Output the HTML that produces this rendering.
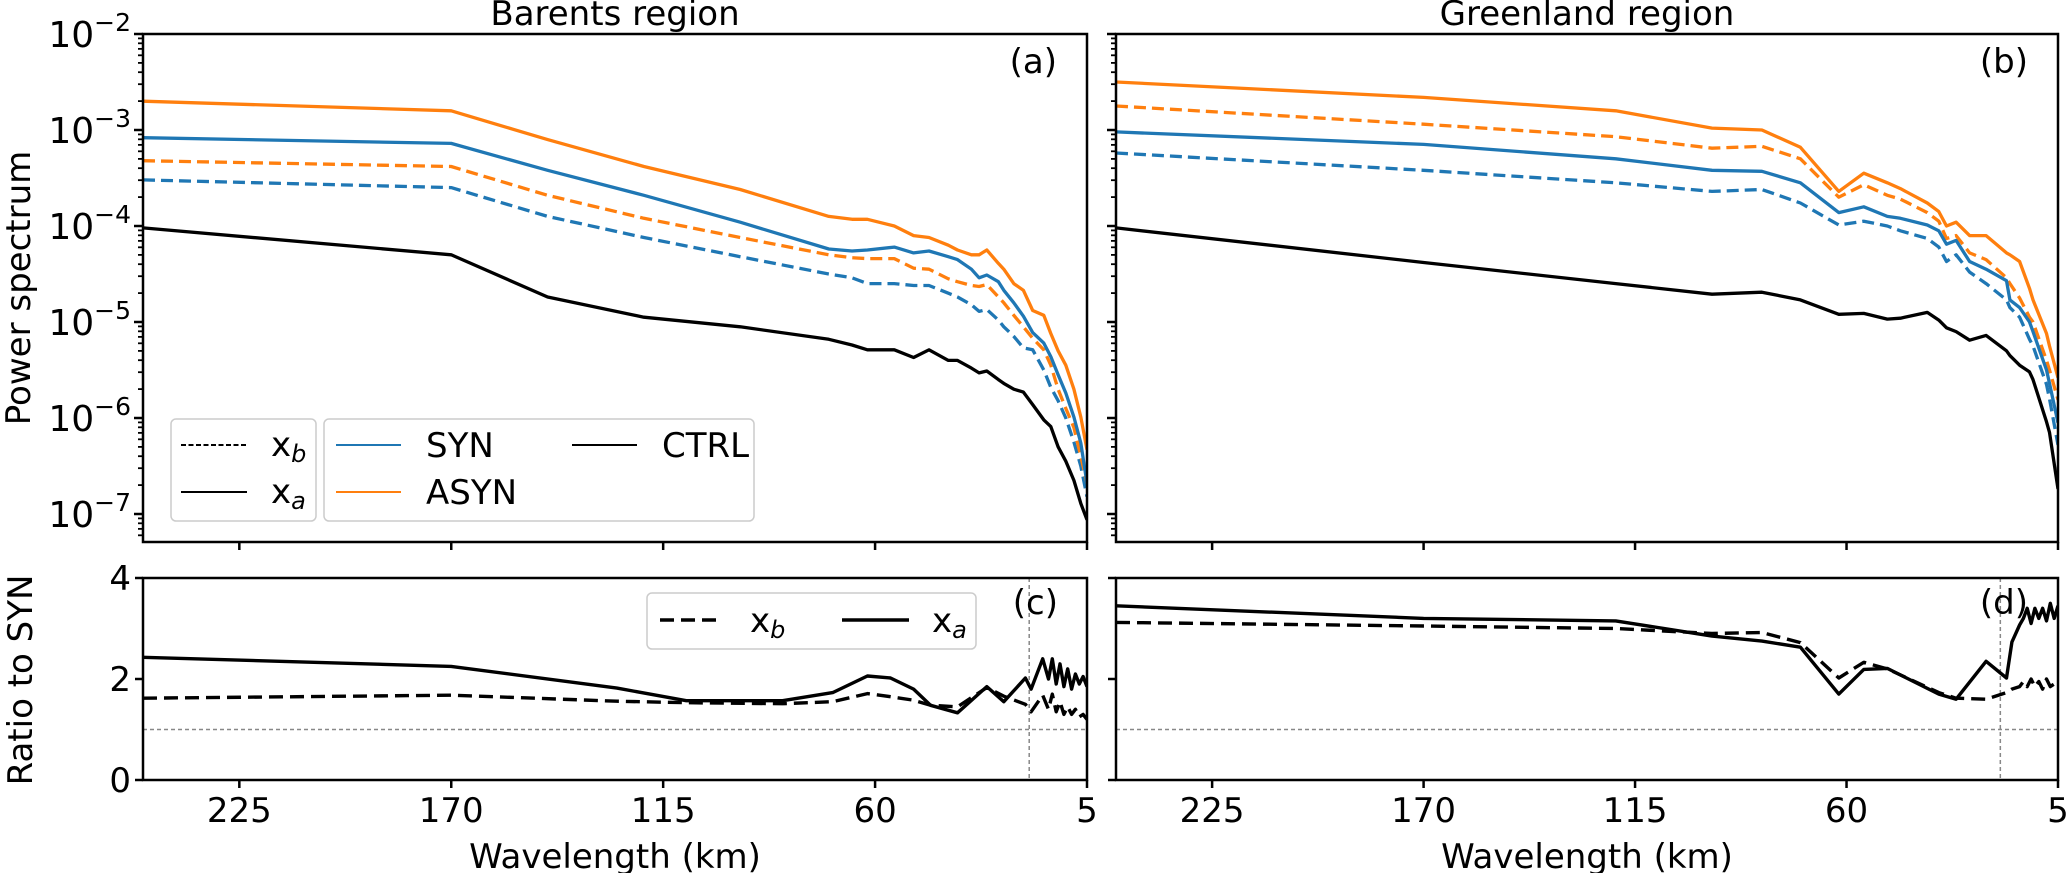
<!DOCTYPE html>
<html><head><meta charset="utf-8"><style>
html,body{margin:0;padding:0;background:#fff;}
svg{display:block;font-family:"DejaVu Sans","Liberation Sans",sans-serif;}
</style></head><body>
<svg id="fig" width="2067" height="873" viewBox="0 0 2067 873" xmlns="http://www.w3.org/2000/svg">
<g id="root"></g>
</svg>
<script>
// ---------- data ----------
const lamA = [250,170,145,120,95,72,66,62,55,50,46,41,38.6,35,33,31,28,26.6,24,21.5,19.1,16.2,14.4,12.5,10.5,8.4,6.6,5];
const aCtrl = [-4.02,-4.3,-4.74,-4.95,-5.05,-5.18,-5.24,-5.29,-5.29,-5.37,-5.29,-5.4,-5.4,-5.48,-5.53,-5.51,-5.6,-5.64,-5.7,-5.73,-5.86,-6.02,-6.09,-6.3,-6.45,-6.65,-6.89,-7.06];
const aSynXa = [-3.08,-3.14,-3.42,-3.68,-3.96,-4.24,-4.26,-4.25,-4.22,-4.28,-4.26,-4.32,-4.35,-4.45,-4.54,-4.51,-4.58,-4.67,-4.8,-4.94,-5.11,-5.22,-5.36,-5.55,-5.74,-5.99,-6.26,-6.68];
const aAsynXa = [-2.7,-2.8,-3.1,-3.38,-3.62,-3.9,-3.93,-3.93,-4.0,-4.1,-4.12,-4.2,-4.25,-4.3,-4.3,-4.25,-4.39,-4.45,-4.6,-4.67,-4.88,-4.93,-5.12,-5.3,-5.45,-5.7,-5.99,-6.33];
const aAsynXb = [-3.32,-3.38,-3.68,-3.92,-4.12,-4.3,-4.33,-4.34,-4.34,-4.44,-4.45,-4.55,-4.58,-4.62,-4.63,-4.61,-4.74,-4.8,-4.93,-5.05,-5.17,-5.29,-5.45,-5.7,-5.9,-6.1,-6.4,-6.68];
const aSynXb = [-3.52,-3.6,-3.9,-4.12,-4.32,-4.5,-4.54,-4.6,-4.6,-4.62,-4.62,-4.7,-4.74,-4.82,-4.89,-4.87,-4.98,-5.05,-5.15,-5.27,-5.29,-5.5,-5.68,-5.82,-6.0,-6.25,-6.5,-6.82];

const lamB = [250,170,120,95,82,72,62,55.5,49.4,46,39,36,34,31.5,28,23.7,18.4,17.5,15,12.4,11.5,8,7.2,5];
const bAsynXa = [-2.5,-2.66,-2.8,-2.98,-3.0,-3.18,-3.64,-3.45,-3.55,-3.61,-3.76,-3.85,-4.0,-3.96,-4.1,-4.1,-4.28,-4.3,-4.37,-4.65,-4.77,-5.12,-5.25,-5.58];
const bAsynXb = [-2.75,-2.94,-3.07,-3.19,-3.17,-3.3,-3.7,-3.57,-3.68,-3.72,-3.86,-3.95,-4.13,-4.1,-4.28,-4.35,-4.54,-4.6,-4.75,-4.95,-5.0,-5.4,-5.5,-5.81];
const bSynXa = [-3.02,-3.15,-3.3,-3.42,-3.43,-3.55,-3.86,-3.8,-3.9,-3.92,-3.99,-4.05,-4.19,-4.15,-4.37,-4.45,-4.57,-4.77,-4.85,-5.0,-5.1,-5.5,-5.64,-6.05];
const bSynXb = [-3.24,-3.42,-3.55,-3.64,-3.62,-3.76,-3.99,-3.95,-4.0,-4.05,-4.13,-4.22,-4.37,-4.3,-4.48,-4.6,-4.77,-4.85,-4.95,-5.18,-5.25,-5.65,-5.8,-6.28];
const bCtrl = [-4.02,-4.38,-4.6,-4.71,-4.69,-4.77,-4.92,-4.91,-4.97,-4.96,-4.9,-4.98,-5.06,-5.1,-5.19,-5.14,-5.3,-5.35,-5.45,-5.52,-5.6,-6.04,-6.15,-6.74];

const lamC = [250,170,127,109,84,71,62,56,50,45.6,38.6,31,26.6,21,19.5,16.5,15,14,13,12,11,10,9,8,7,6,5];
const cXa = [2.43,2.25,1.82,1.57,1.57,1.73,2.06,2.02,1.8,1.48,1.33,1.85,1.55,2.02,1.8,2.4,2.0,2.4,1.9,2.3,1.85,2.2,1.8,2.1,1.9,2.05,1.85];
const cXb = [1.62,1.68,1.56,1.53,1.51,1.55,1.71,1.65,1.58,1.48,1.45,1.83,1.66,1.5,1.35,1.68,1.4,1.7,1.35,1.55,1.3,1.45,1.3,1.4,1.25,1.3,1.2];

const lamD = [250,170,120,95,82,72,62,55.5,49.4,36,31.5,23.7,18.4,17,15,14,13,12,11,10,9,8,7,6,5];
const dXa = [3.45,3.2,3.15,2.85,2.75,2.63,1.7,2.19,2.21,1.7,1.6,2.35,2.02,2.73,3.07,3.2,3.4,3.1,3.4,3.2,3.4,3.15,3.5,3.2,3.45];
const dXb = [3.12,3.05,3.0,2.9,2.92,2.72,2.02,2.33,2.2,1.73,1.62,1.6,1.73,1.8,1.85,1.95,1.85,2.0,1.85,1.95,1.8,2.0,1.85,1.9,1.85];

const xTicks = [225,170,115,60,5];
const yLogTicks = [-2,-3,-4,-5,-6,-7];
const yRatioTicks = [0,2,4];
const cutoffKm = [20];

// ---------- layout ----------
const NS = "http://www.w3.org/2000/svg";
const root = document.getElementById('root');
const BLUE = "#1f77b4", ORANGE = "#ff7f0e";
const panels = {
  a:{x0:143,x1:1087,y0:34,y1:542}, b:{x0:1116,x1:2058,y0:34,y1:542},
  c:{x0:143,x1:1087,y0:578,y1:780}, d:{x0:1116,x1:2058,y0:578,y1:780}
};
function mk(tag, attrs, parent){ const e=document.createElementNS(NS,tag); for(const k in attrs) e.setAttribute(k,attrs[k]); (parent||root).appendChild(e); return e; }
function xf(p){ return l => p.x1 - (l-5)*(p.x1-p.x0)/245; }
function ylog(p){ return v => p.y0 + (-2 - v)*96; }
function yrat(p){ return v => p.y1 - v*(p.y1-p.y0)/4; }

function drawLine(p, lams, vals, yfn, color, dashed, w, name){
  const X=xf(p);
  let d=''; lams.forEach((l,i)=>{ d += (i?'L':'M')+X(l).toFixed(1)+','+yfn(vals[i]).toFixed(1); });
  const e=mk('path',{d:d,fill:'none',stroke:color,'stroke-width':w||3,'stroke-linejoin':'round','clip-path':'url(#clip-'+p.id+')'});
  if(dashed) e.setAttribute('stroke-dasharray', dashed);
  
  
}
function text(x,y,s,opts){
  const t=mk('text',Object.assign({x:x,y:y,'font-size':34,fill:'#000'},opts||{}));
  t.innerHTML=s; return t;
}

const defs=mk('defs',{});
for(const id in panels){ const p=panels[id]; p.id=id;
  const cp=mk('clipPath',{id:'clip-'+id},defs); mk('rect',{x:p.x0,y:p.y0,width:p.x1-p.x0,height:p.y1-p.y0},cp); }

for(const id in panels){
  const p=panels[id]; const X=xf(p);
  const g=mk('g',{});  
  xTicks.forEach(t=>{
    mk('line',{x1:X(t),x2:X(t),y1:p.y1,y2:p.y1+8,stroke:'#000','stroke-width':2.5},g);
    if(id==='c'||id==='d'){
      const tl=text(X(t),822,t,{'text-anchor':'middle','font-size':34});
      
      
    }
  });
  if(id==='a'||id==='b'){
    const Y=ylog(p);
    for(let dec=-8; dec<=-3; dec++){
      for(let m=2;m<=9;m++){ const v=dec+Math.log10(m); const y=Y(v); if(y>=p.y0&&y<=p.y1) mk('line',{x1:p.x0-5,x2:p.x0,y1:y,y2:y,stroke:'#000','stroke-width':1.8},g); }
    }
    yLogTicks.forEach(t=>{ const y=Y(t);
      mk('line',{x1:p.x0-9,x2:p.x0,y1:y,y2:y,stroke:'#000','stroke-width':2.5},g);
      if(id==='a'){ const tl=text(p.x0-12,y+13,'10<tspan dy="-16" font-size="25">−'+(-t)+'</tspan>',{'text-anchor':'end','font-size':36});
        
         }
    });
  } else {
    const Y=yrat(p);
    yRatioTicks.forEach(t=>{ const y=Y(t);
      mk('line',{x1:p.x0-8,x2:p.x0,y1:y,y2:y,stroke:'#000','stroke-width':2.5},g);
      if(id==='c'){ const tl=text(p.x0-12,y+12,t,{'text-anchor':'end','font-size':34});
        
         }
    });
    mk('line',{x1:p.x0,x2:p.x1,y1:Y(1),y2:Y(1),stroke:'#888','stroke-width':1.5,'stroke-dasharray':'4,3'},g);
    mk('line',{x1:X(cutoffKm[0]),x2:X(cutoffKm[0]),y1:p.y0,y2:p.y1,stroke:'#888','stroke-width':1.5,'stroke-dasharray':'4,3'},g);
  }
}

const A=panels.a,B=panels.b,C=panels.c,D=panels.d;
drawLine(A,lamA,aCtrl,ylog(A),'#000',null,3.3,'ctrl-line-a');
drawLine(A,lamA,aSynXb,ylog(A),BLUE,'12,6',3.3,'syn-xb-line-a');
drawLine(A,lamA,aAsynXb,ylog(A),ORANGE,'12,6',3.3,'asyn-xb-line-a');
drawLine(A,lamA,aSynXa,ylog(A),BLUE,null,3.3,'syn-xa-line-a');
drawLine(A,lamA,aAsynXa,ylog(A),ORANGE,null,3.3,'asyn-xa-line-a');
drawLine(B,lamB,bCtrl,ylog(B),'#000',null,3.3,'ctrl-line-b');
drawLine(B,lamB,bSynXb,ylog(B),BLUE,'12,6',3.3,'syn-xb-line-b');
drawLine(B,lamB,bAsynXb,ylog(B),ORANGE,'12,6',3.3,'asyn-xb-line-b');
drawLine(B,lamB,bSynXa,ylog(B),BLUE,null,3.3,'syn-xa-line-b');
drawLine(B,lamB,bAsynXa,ylog(B),ORANGE,null,3.3,'asyn-xa-line-b');
drawLine(C,lamC,cXb,yrat(C),'#000','14,7',3.4,'ratio-xb-line-c');
drawLine(C,lamC,cXa,yrat(C),'#000',null,3.4,'ratio-xa-line-c');
drawLine(D,lamD,dXb,yrat(D),'#000','14,7',3.4,'ratio-xb-line-d');
drawLine(D,lamD,dXa,yrat(D),'#000',null,3.4,'ratio-xa-line-d');

for(const id in panels){ const p=panels[id];
  const r=mk('rect',{x:p.x0,y:p.y0,width:p.x1-p.x0,height:p.y1-p.y0,fill:'none',stroke:'#000','stroke-width':2.5});
  
  
}
</script>
<script>
(function(){
const NS="http://www.w3.org/2000/svg"; const root=document.getElementById('root');
function el(tag,a,p){const e=document.createElementNS(NS,tag);for(const k in a)e.setAttribute(k,a[k]);(p||root).appendChild(e);return e;}
function t(x,y,html,name,a){const e=el('text',Object.assign({x:x,y:y,'font-size':34,fill:'#000'},a||{}));e.innerHTML=html;
  
  
  return e;}
t(615,25,'Barents region','title-barents',{'text-anchor':'middle'});
t(1587,25,'Greenland region','title-greenland',{'text-anchor':'middle'});
t(615,868,'Wavelength (km)','x-axis-title-left',{'text-anchor':'middle'});
t(1587,868,'Wavelength (km)','x-axis-title-right',{'text-anchor':'middle'});
t(0,0,'Power spectrum','y-axis-title-power',{'text-anchor':'middle',transform:'translate(30,288) rotate(-90)'});
t(0,0,'Ratio to SYN','y-axis-title-ratio',{'text-anchor':'middle',transform:'translate(32,680) rotate(-90)'});
t(1057,73,'(a)','panel-label-a',{'text-anchor':'end'});
t(2028,73,'(b)','panel-label-b',{'text-anchor':'end'});
t(1058,614,'(c)','panel-label-c',{'text-anchor':'end'});
t(2028,614,'(d)','panel-label-d',{'text-anchor':'end'});
const l1=el('g',{});  
el('rect',{x:171,y:419,width:145,height:102,rx:5,fill:'#fff','fill-opacity':0.85,stroke:'#ccc','stroke-width':1.5},l1);
el('line',{x1:181,x2:247,y1:445,y2:445,stroke:'#000','stroke-width':2,'stroke-dasharray':'5,2.5'},l1);
el('line',{x1:181,x2:247,y1:492,y2:492,stroke:'#000','stroke-width':2},l1);
t(271,456,'x<tspan font-size="24" font-style="italic" dy="6">b</tspan>','legend-entry-xb');
t(271,503,'x<tspan font-size="24" font-style="italic" dy="6">a</tspan>','legend-entry-xa');
const l2=el('g',{});  
el('rect',{x:324,y:419,width:430,height:102,rx:5,fill:'#fff','fill-opacity':0.85,stroke:'#ccc','stroke-width':1.5},l2);
el('line',{x1:336,x2:401,y1:445,y2:445,stroke:'#1f77b4','stroke-width':2},l2);
el('line',{x1:336,x2:401,y1:492,y2:492,stroke:'#ff7f0e','stroke-width':2},l2);
el('line',{x1:572,x2:637,y1:445,y2:445,stroke:'#000','stroke-width':2},l2);
t(426,457,'SYN','legend-entry-syn');
t(426,504,'ASYN','legend-entry-asyn');
t(662,457,'CTRL','legend-entry-ctrl');
const l3=el('g',{});  
el('rect',{x:647,y:593,width:329,height:56,rx:5,fill:'#fff','fill-opacity':0.85,stroke:'#ccc','stroke-width':1.5},l3);
el('line',{x1:660,x2:718,y1:620,y2:620,stroke:'#000','stroke-width':3.4,'stroke-dasharray':'14,7'},l3);
el('line',{x1:842,x2:909,y1:620,y2:620,stroke:'#000','stroke-width':3.4},l3);
t(750,632,'x<tspan font-size="24" font-style="italic" dy="6">b</tspan>','legend-ratio-xb');
t(932,632,'x<tspan font-size="24" font-style="italic" dy="6">a</tspan>','legend-ratio-xa');
})();
</script>
</body></html>
